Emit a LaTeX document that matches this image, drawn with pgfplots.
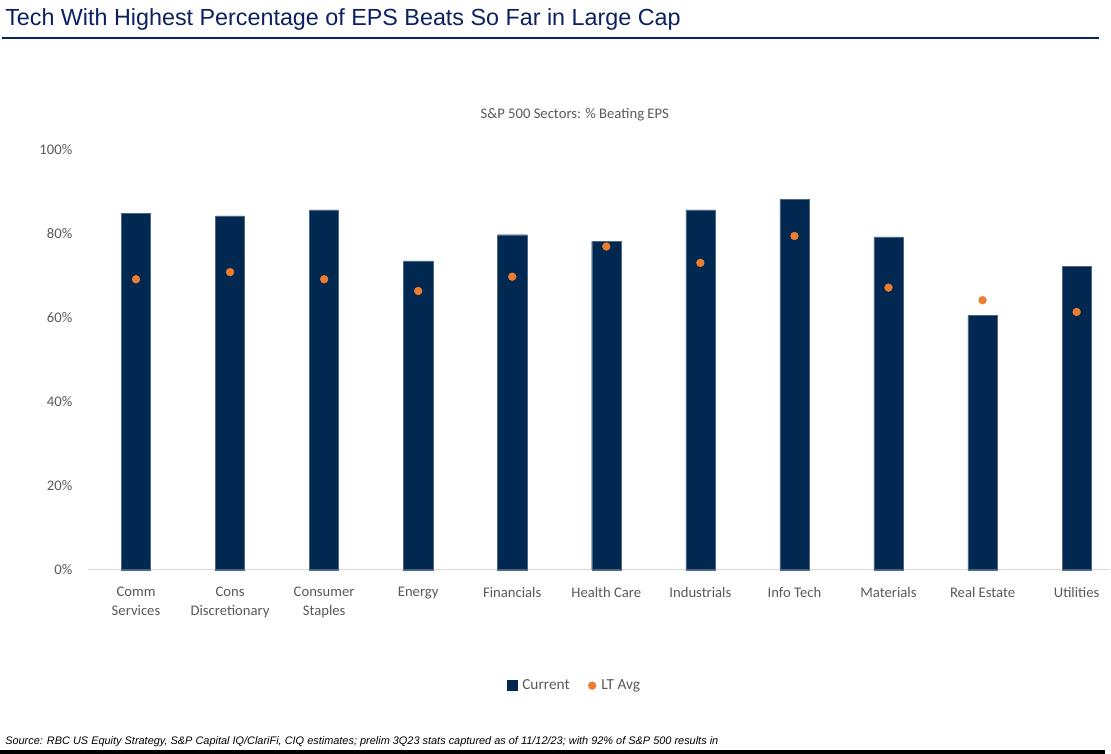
\documentclass[border=0pt]{standalone}
\usepackage{pgfplots}
\pgfplotsset{compat=1.18}
\usepackage{fontspec}
\setmainfont{Carlito}
\newfontfamily\arial{Liberation Sans}

\definecolor{navy}{HTML}{002850}
\definecolor{orng}{HTML}{ED7D31}
\definecolor{titleblue}{HTML}{0B2161}
\definecolor{lblgray}{HTML}{595959}

\begin{document}
\begin{tikzpicture}
% canvas 1111 x 754 px, 1px = 0.75pt
\path (0,0) rectangle (833.25pt,-565.5pt);
\node[anchor=base west, text=titleblue, font=\arial\fontsize{17.5}{20}\selectfont, inner sep=0pt]
  at (3.75pt,-19.5pt) {Tech With Highest Percentage of EPS Beats So Far in Large Cap};
\draw[titleblue, line width=1.1pt] (1.5pt,-28.5pt) -- (825pt,-28.5pt);
\node[text=lblgray, font=\fontsize{11}{13}\selectfont] at (431.25pt,-86pt)
  {S\&P 500 Sectors: \% Beating EPS};
\node[anchor=base west, font=\arial\itshape\fontsize{8.2}{9}\selectfont, inner sep=0pt]
  at (3.75pt,-559pt) {Source: RBC US Equity Strategy, S\&P Capital IQ/ClariFi, CIQ estimates; prelim 3Q23 stats captured as of 11/12/23; with 92\% of S\&P 500 results in};
\fill[black] (0pt,-562.5pt) rectangle (829pt,-565.5pt);

\begin{axis}[
  at={(66.75pt,-427.5pt)}, anchor=south west,
  scale only axis, width=766.5pt, height=315pt,
  xmin=-0.5, xmax=10.36, ymin=0, ymax=100,
  axis y line*=left,
  y axis line style={draw=none},
  axis x line*=bottom,
  x axis line style={-, draw=black!15, line width=0.8pt},
  major tick length=0pt,
  xtick={0,...,10},
  xticklabels={{Comm\\Services},{Cons\\Discretionary},{Consumer\\Staples},Energy,Financials,{Health Care},Industrials,{Info Tech},Materials,{Real Estate},Utilities},
  xticklabel style={align=center, text=lblgray, font=\fontsize{11}{14.25}\selectfont, anchor=north, yshift=-9.5pt},
  ytick={0,20,40,60,80,100},
  yticklabels={0\%,20\%,40\%,60\%,80\%,100\%},
  yticklabel style={text=lblgray, font=\fontsize{11}{13}\selectfont, anchor=east, xshift=-9pt},
  clip=false,
  legend style={at={(0.4755,-0.276)}, anchor=center, draw=none, fill=none,
    legend columns=2, font=\fontsize{11.5}{13}\selectfont, text=lblgray,
    /tikz/every odd column/.append style={column sep=2pt},
    /tikz/every even column/.append style={column sep=12pt}},
]
\addplot[ybar, bar width=0.31, fill=navy, draw=navy!70!white, line width=0.3pt,
  legend image code/.code={\fill[navy] (0pt,-3.75pt) rectangle (7.5pt,3.75pt);}]
  coordinates {(0,84.9) (1,84.3) (2,85.7) (3,73.6) (4,79.8) (5,78.2) (6,85.7) (7,88.2) (8,79.3) (9,60.6) (10,72.3)};
\addlegendentry{Current}
\addplot[only marks, mark=*, mark size=2.9pt, color=orng]
  coordinates {(0,69.2) (1,70.9) (2,69.2) (3,66.4) (4,69.8) (5,77.0) (6,73.1) (7,79.5) (8,67.2) (9,64.2) (10,61.4)};
\addlegendentry{LT Avg}
\end{axis}
\end{tikzpicture}
\end{document}
